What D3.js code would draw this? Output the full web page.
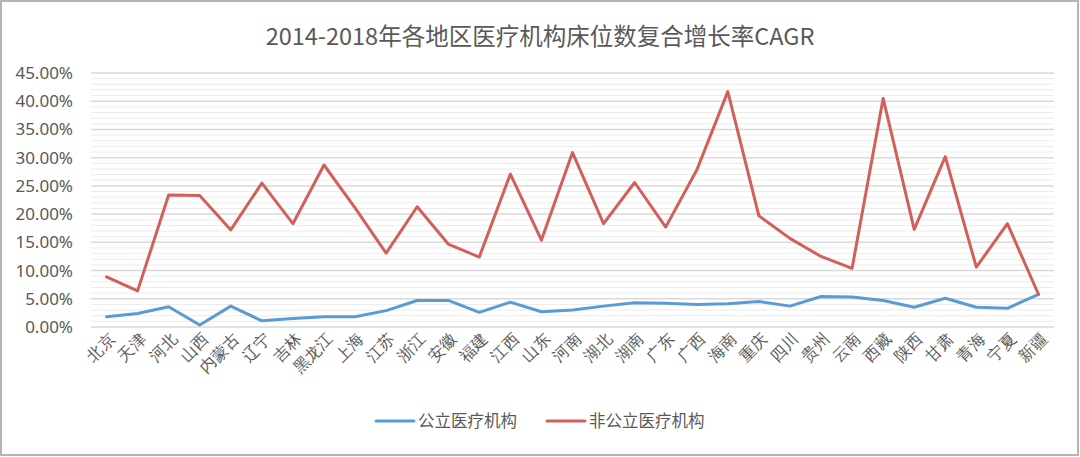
<!DOCTYPE html>
<html>
<head>
<meta charset="utf-8">
<script src="https://cdn.jsdelivr.net/npm/d3@7"></script>
<style>
  body { margin: 0; background: #fff; }
  svg { display: block; font-family: "Noto Sans CJK SC", "Noto Sans", sans-serif; }
</style>
</head>
<body>
<svg id="chart" width="1080" height="457"></svg>
<script>
// regions, in the order of the x axis
const regions = ['北京', '天津', '河北', '山西', '内蒙古', '辽宁', '吉林', '黑龙江', '上海', '江苏',
  '浙江', '安徽', '福建', '江西', '山东', '河南', '湖北', '湖南', '广东', '广西', '海南',
  '重庆', '四川', '贵州', '云南', '西藏', '陕西', '甘肃', '青海', '宁夏', '新疆'];

// CAGR, percent
const publicCagr = [1.8, 2.4, 3.6, 0.35, 3.7, 1.1, 1.5, 1.8, 1.8, 2.9,
  4.7, 4.7, 2.6, 4.4, 2.7, 3.0, 3.7, 4.3, 4.2, 4.0, 4.1,
  4.5, 3.7, 5.4, 5.3, 4.7, 3.5, 5.1, 3.5, 3.3, 5.8];
const privateCagr = [8.9, 6.4, 23.4, 23.3, 17.2, 25.5, 18.3, 28.7, 21.1, 13.1,
  21.3, 14.7, 12.4, 27.1, 15.4, 30.9, 18.3, 25.6, 17.7, 27.8, 41.7,
  19.7, 15.7, 12.5, 10.4, 40.5, 17.3, 30.2, 10.6, 18.3, 5.8];

const yTicks = [0, 5, 10, 15, 20, 25, 30, 35, 40, 45];
const minorTicks = d3.range(0, 46, 1);

const seriesNames = ['公立医疗机构', '非公立医疗机构'];
const colors = ['#5b9bd5', '#d2605a'];

const svg = d3.select('#chart');
const margin = {top: 73, right: 26, bottom: 130, left: 91};
const width = 1080 - margin.left - margin.right;
const height = 457 - margin.top - margin.bottom;

// frame
svg.append('rect')
  .attr('x', 1).attr('y', 1).attr('width', 1077).attr('height', 454)
  .attr('fill', 'none').attr('stroke', '#b5b5b5').attr('stroke-width', 2);

svg.append('text')
  .attr('x', 540).attr('y', 45)
  .attr('text-anchor', 'middle')
  .attr('fill', '#595959')
  .style('font-size', '23.5px')
  .text('2014-2018年各地区医疗机构床位数复合增长率CAGR');

const g = svg.append('g').attr('transform', `translate(${margin.left},${margin.top})`);

const x = d3.scalePoint().domain(regions).range([0, width]).padding(0.5);
const y = d3.scaleLinear().domain([0, 45]).range([height, 0]);

// gridlines
g.append('g').selectAll('line')
  .data(minorTicks.filter(d => d % 5 !== 0))
  .enter().append('line')
  .attr('x1', 0).attr('x2', width)
  .attr('y1', d => y(d)).attr('y2', d => y(d))
  .attr('stroke', '#ececec').attr('stroke-width', 1);

g.append('g').selectAll('line')
  .data(yTicks)
  .enter().append('line')
  .attr('x1', 0).attr('x2', width)
  .attr('y1', d => y(d)).attr('y2', d => y(d))
  .attr('stroke', '#d9d9d9').attr('stroke-width', 1.5);

// y axis labels
const yAxis = g.append('g')
  .call(d3.axisLeft(y).tickValues(yTicks).tickSize(0).tickPadding(18).tickFormat(d => d.toFixed(2) + '%'));
yAxis.select('.domain').remove();
yAxis.selectAll('text').attr('fill', '#595959').style('font-size', '17px')
  .style('font-family', '"Noto Sans", sans-serif');

// x axis labels
const xAxis = g.append('g')
  .attr('transform', `translate(0,${height})`)
  .call(d3.axisBottom(x).tickSize(0).tickPadding(0));
xAxis.select('.domain').remove();
xAxis.selectAll('text')
  .attr('fill', '#595959')
  .style('font-size', '16px')
  .attr('text-anchor', 'end')
  .attr('dy', 0)
  .attr('transform', 'translate(9,13) rotate(-45)');

const line = d3.line()
  .x((d, i) => x(regions[i]))
  .y(d => y(d));

[publicCagr, privateCagr].forEach((s, i) => {
  g.append('path')
    .datum(s)
    .attr('d', line)
    .attr('fill', 'none')
    .attr('stroke', colors[i])
    .attr('stroke-width', 3)
    .attr('stroke-linejoin', 'round')
    .attr('stroke-linecap', 'round');
});

// legend
const legend = svg.append('g').attr('transform', 'translate(376,421)');
const legendX = [0, 171];
seriesNames.forEach((name, i) => {
  const lg = legend.append('g').attr('transform', `translate(${legendX[i]},0)`);
  lg.append('line').attr('x1', 0).attr('x2', 38).attr('y1', 0).attr('y2', 0)
    .attr('stroke', colors[i]).attr('stroke-width', 3).attr('stroke-linecap', 'round');
  lg.append('text').attr('x', 42).attr('y', 6)
    .attr('fill', '#595959').style('font-size', '16.5px').text(name);
});
</script>
</body>
</html>
